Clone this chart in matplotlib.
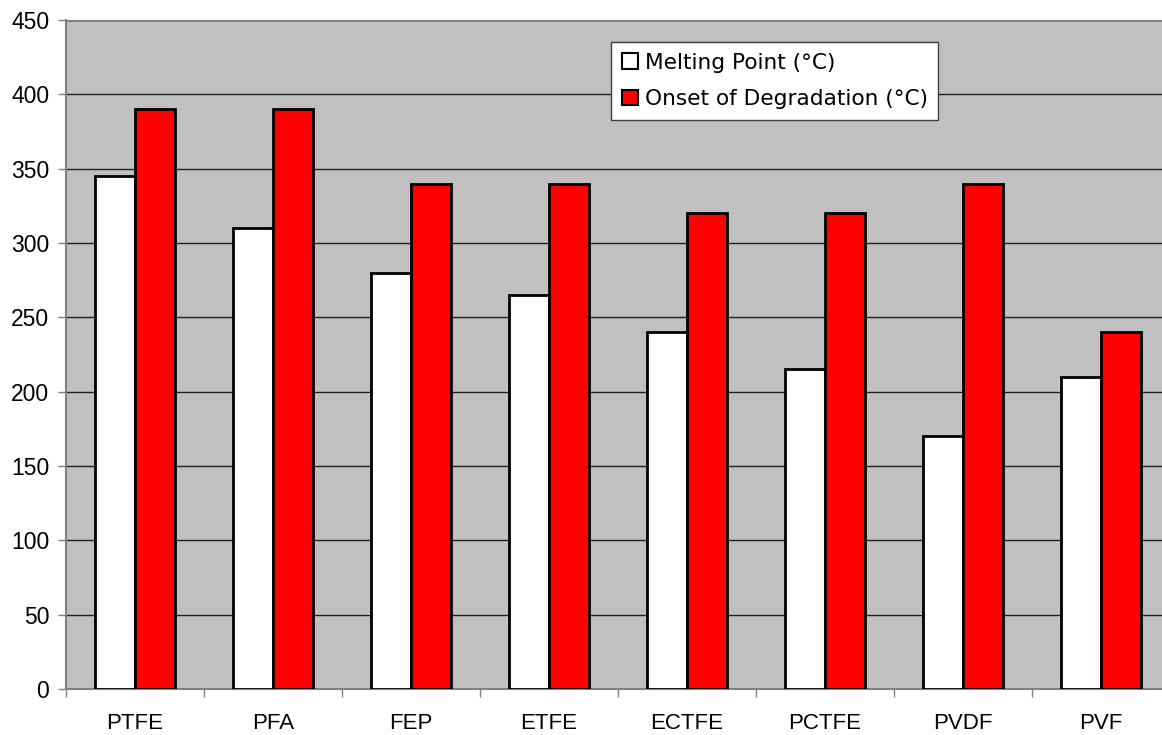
import matplotlib
matplotlib.use("Agg")
import matplotlib.pyplot as plt
import numpy as np

categories = ["PTFE", "PFA", "FEP", "ETFE", "ECTFE", "PCTFE", "PVDF", "PVF"]
melting_point = [345, 310, 280, 265, 240, 215, 170, 210]
onset_degradation = [390, 390, 340, 340, 320, 320, 340, 240]
yticks = [0, 50, 100, 150, 200, 250, 300, 350, 400, 450]

W, H = 1162, 735
fig = plt.figure(figsize=(W / 100, H / 100), dpi=100)
left, right, top, bottom = 66, 1170, 20, 689
ax = fig.add_axes([left / W, 1 - bottom / H, (right - left) / W, (bottom - top) / H])
ax.set_facecolor("#C0C0C0")

x = np.arange(len(categories))
bw = 0.29
ax.bar(x - bw / 2, melting_point, bw, color="white", edgecolor="black",
       linewidth=2, label="Melting Point (°C)", zorder=3)
ax.bar(x + bw / 2, onset_degradation, bw, color="#FF0000", edgecolor="black",
       linewidth=2, label="Onset of Degradation (°C)", zorder=3)

ax.set_xlim(-0.5, len(categories) - 0.5)
ax.set_ylim(0, 450)
ax.set_yticks(yticks)
ax.set_yticklabels([str(v) for v in yticks], fontsize=16.5, family="Liberation Sans")
ax.yaxis.grid(True, color="#202020", linewidth=1, zorder=0)
ax.set_axisbelow(True)

ax.set_xticks(x)
ax.set_xticklabels(categories, fontsize=16, family="Liberation Sans")
ax.set_xticks(np.arange(len(categories) + 1) - 0.5, minor=True)
ax.tick_params(axis="x", which="major", length=0, pad=17)
ax.tick_params(axis="x", which="minor", length=6, width=1, color="#808080", direction="out")
ax.tick_params(axis="y", length=6, width=1, color="#808080", direction="out", pad=6)

for s in ["top", "right"]:
    ax.spines[s].set_visible(False)
ax.axhline(450, color="#808080", linewidth=2, zorder=1)
ax.spines["left"].set_color("#808080")
ax.spines["bottom"].set_color("#808080")
ax.spines["left"].set_linewidth(1.5)
ax.spines["bottom"].set_linewidth(1.5)

leg = ax.legend(loc="upper left", bbox_to_anchor=((611 - left) / (right - left), 1 - (42 - top) / (bottom - top)),
                frameon=True, fancybox=False, framealpha=1, edgecolor="#404040",
                prop={"family": "DejaVu Sans", "size": 15.6},
                handlelength=0.75, handleheight=0.75, handletextpad=0.3,
                borderpad=0.5, labelspacing=0.75, borderaxespad=0)
leg.get_frame().set_linewidth(1)
for h in leg.legend_handles:
    h.set_linewidth(1.5)

fig.savefig("out.png", dpi=100)
